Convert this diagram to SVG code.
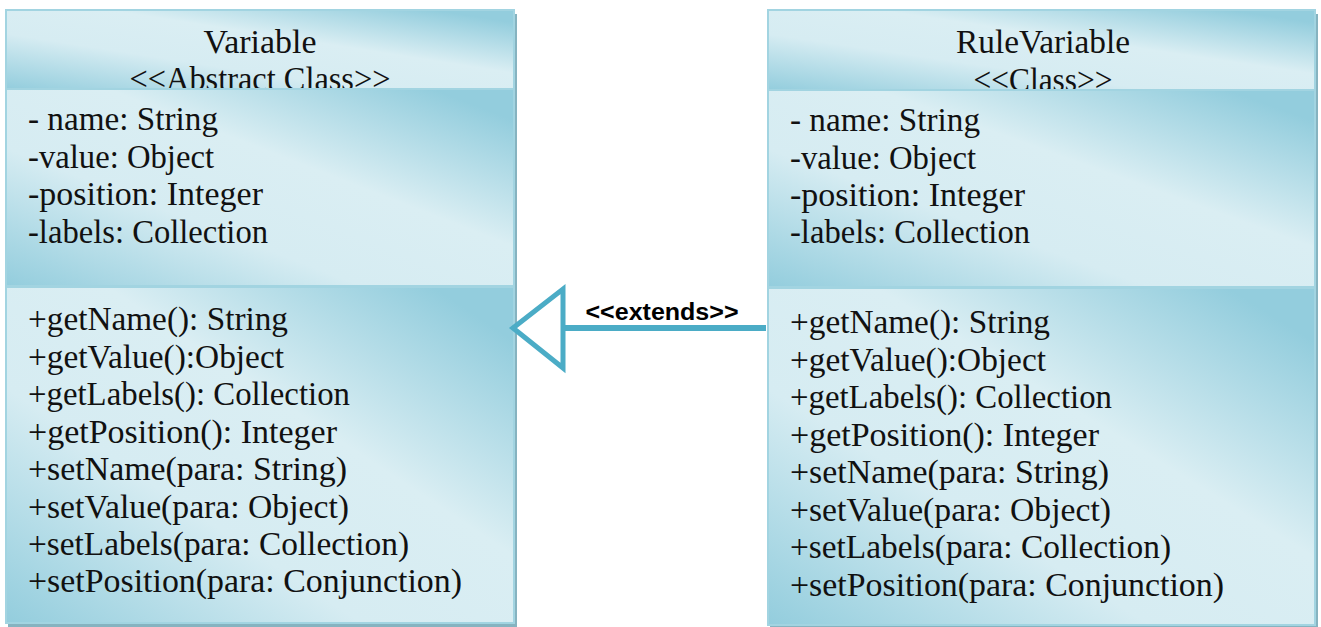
<svg xmlns="http://www.w3.org/2000/svg" width="1321" height="627" viewBox="0 0 1321 627">
<defs>
<linearGradient id="g" x1="0" y1="1" x2="1" y2="0">
<stop offset="0" stop-color="#93cddd"/>
<stop offset="0.35" stop-color="#d6ecf2"/>
<stop offset="0.6" stop-color="#daeef3"/>
<stop offset="0.92" stop-color="#93cddd"/>
<stop offset="1" stop-color="#93cddd"/>
</linearGradient>
</defs>
<style>
.sec{fill:url(#g);stroke:#a2d4e1;stroke-width:2}
.shadow{fill:#86b3c0}
.t{font-family:"Liberation Serif",serif;font-size:34px;fill:#111}
.title{font-family:"Liberation Serif",serif;font-size:34px;fill:#111;text-anchor:middle}
.lbl{font-family:"Liberation Sans",sans-serif;font-size:23px;font-weight:bold;fill:#000;text-anchor:middle}
</style>
<g id="Variable">
<rect class="shadow" x="8" y="14" width="509" height="613"/>
<rect class="sec" x="6" y="10" width="508" height="79"/>
<text class="title" x="260" y="53" textLength="113" lengthAdjust="spacingAndGlyphs">Variable</text>
<text class="title" x="260" y="90" textLength="261" lengthAdjust="spacingAndGlyphs">&lt;&lt;Abstract Class&gt;&gt;</text>
<rect class="sec" x="6" y="89" width="508" height="197"/>
<text class="t" x="28" y="130" textLength="190" lengthAdjust="spacingAndGlyphs">- name: String</text>
<text class="t" x="28" y="168" textLength="186" lengthAdjust="spacingAndGlyphs">-value: Object</text>
<text class="t" x="28" y="205" textLength="235" lengthAdjust="spacingAndGlyphs">-position: Integer</text>
<text class="t" x="28" y="243" textLength="240" lengthAdjust="spacingAndGlyphs">-labels: Collection</text>
<rect class="sec" x="6" y="287" width="508" height="336"/>
<text class="t" x="28" y="330" textLength="260" lengthAdjust="spacingAndGlyphs">+getName(): String</text>
<text class="t" x="28" y="368" textLength="256" lengthAdjust="spacingAndGlyphs">+getValue():Object</text>
<text class="t" x="28" y="405" textLength="322" lengthAdjust="spacingAndGlyphs">+getLabels(): Collection</text>
<text class="t" x="28" y="443" textLength="309" lengthAdjust="spacingAndGlyphs">+getPosition(): Integer</text>
<text class="t" x="28" y="480" textLength="319" lengthAdjust="spacingAndGlyphs">+setName(para: String)</text>
<text class="t" x="28" y="518" textLength="321" lengthAdjust="spacingAndGlyphs">+setValue(para: Object)</text>
<text class="t" x="28" y="555" textLength="381" lengthAdjust="spacingAndGlyphs">+setLabels(para: Collection)</text>
<text class="t" x="28" y="592" textLength="434" lengthAdjust="spacingAndGlyphs">+setPosition(para: Conjunction)</text>
</g>
<g id="RuleVariable">
<rect class="shadow" x="770" y="14" width="548" height="613"/>
<rect class="sec" x="768" y="10" width="547" height="80"/>
<text class="title" x="1043" y="53" textLength="174" lengthAdjust="spacingAndGlyphs">RuleVariable</text>
<text class="title" x="1043" y="91" textLength="139" lengthAdjust="spacingAndGlyphs">&lt;&lt;Class&gt;&gt;</text>
<rect class="sec" x="768" y="90" width="547" height="197"/>
<text class="t" x="790" y="131" textLength="190" lengthAdjust="spacingAndGlyphs">- name: String</text>
<text class="t" x="790" y="169" textLength="186" lengthAdjust="spacingAndGlyphs">-value: Object</text>
<text class="t" x="790" y="206" textLength="235" lengthAdjust="spacingAndGlyphs">-position: Integer</text>
<text class="t" x="790" y="243" textLength="240" lengthAdjust="spacingAndGlyphs">-labels: Collection</text>
<rect class="sec" x="768" y="288" width="547" height="337"/>
<text class="t" x="790" y="333" textLength="260" lengthAdjust="spacingAndGlyphs">+getName(): String</text>
<text class="t" x="790" y="371" textLength="256" lengthAdjust="spacingAndGlyphs">+getValue():Object</text>
<text class="t" x="790" y="408" textLength="322" lengthAdjust="spacingAndGlyphs">+getLabels(): Collection</text>
<text class="t" x="790" y="446" textLength="309" lengthAdjust="spacingAndGlyphs">+getPosition(): Integer</text>
<text class="t" x="790" y="483" textLength="319" lengthAdjust="spacingAndGlyphs">+setName(para: String)</text>
<text class="t" x="790" y="521" textLength="321" lengthAdjust="spacingAndGlyphs">+setValue(para: Object)</text>
<text class="t" x="790" y="558" textLength="381" lengthAdjust="spacingAndGlyphs">+setLabels(para: Collection)</text>
<text class="t" x="790" y="596" textLength="434" lengthAdjust="spacingAndGlyphs">+setPosition(para: Conjunction)</text>
</g>
<g id="connectors">
<line x1="766" y1="328" x2="563" y2="328" stroke="#4bacc6" stroke-width="6"/>
<polygon points="513,328 563,289 563,368" fill="#fff" stroke="#4bacc6" stroke-width="5" stroke-linejoin="miter"/>
<text class="lbl" x="662" y="320" textLength="153" lengthAdjust="spacingAndGlyphs">&lt;&lt;extends&gt;&gt;</text>
</g>
</svg>
